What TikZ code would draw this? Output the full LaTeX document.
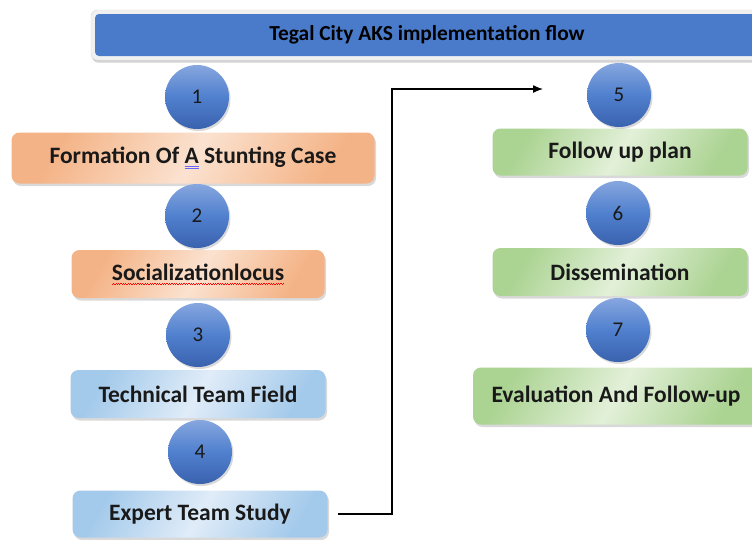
\documentclass[tikz,border=0pt]{standalone}
\usepackage{fontspec}
\setmainfont{Carlito}
\usetikzlibrary{arrows.meta,shadows}

\definecolor{barblue}{HTML}{4A7BCB}
\definecolor{ballhi}{HTML}{86A6DE}
\definecolor{ballmid}{HTML}{5080CE}
\definecolor{balllo}{HTML}{3A62AE}
\definecolor{orangedark}{HTML}{F4B386}
\definecolor{orangelight}{HTML}{FBE2D0}
\definecolor{bluedark}{HTML}{A4CAEB}
\definecolor{bluelight}{HTML}{E0ECF8}
\definecolor{greendark}{HTML}{ABD392}
\definecolor{greenlight}{HTML}{E2F0D8}

% double blue line and red squiggle under a word
\newcommand\dblmark[1]{\setbox0\hbox{#1}%
  \rlap{\color{blue!60}\rule[-3pt]{\wd0}{0.8pt}}%
  \rlap{\color{blue!60}\rule[-5pt]{\wd0}{0.8pt}}\box0\relax}
\newcommand\wavymark[1]{\setbox0\hbox{#1}%
  \rlap{\color{red}\hbox to\wd0{\xleaders\hbox{\raisebox{-4.5pt}{\rule{1.2pt}{0.8pt}}\raisebox{-3.5pt}{\rule{1.2pt}{0.8pt}}}\hfill}}\box0\relax}

\tikzset{
  numball/.style={circle,minimum size=64pt,inner sep=0pt,
    top color=ballhi,bottom color=balllo,middle color=ballmid,
    drop shadow={opacity=0.3,shadow xshift=1.5pt,shadow yshift=-2pt},
    font=\fontsize{21}{24}\selectfont,text=black!90},
  stepbox/.style={rounded corners=8pt,minimum height=48pt,inner sep=0pt,
    drop shadow={opacity=0.3,shadow xshift=1.5pt,shadow yshift=-2.5pt},
    font=\bfseries\fontsize{23.5}{27}\selectfont,text=black!90},
  orangebox/.style={stepbox,left color=orangedark,right color=orangedark,middle color=orangelight,shading angle=60},
  bluebox/.style={stepbox,left color=bluedark,right color=bluedark,middle color=bluelight,shading angle=60},
  greenbox/.style={stepbox,left color=greendark,right color=greendark,middle color=greenlight,shading angle=60},
}

\begin{document}
\begin{tikzpicture}[x=1pt,y=-1pt]
\useasboundingbox (0,0) rectangle (752,539);
% heading bar
\node[rounded corners=6pt,fill=gray!12,draw=gray!30,minimum width=672pt,minimum height=50pt,
  drop shadow={opacity=0.35,shadow xshift=1pt,shadow yshift=-2.5pt}] (frame) at (427,35) {};
\node[rounded corners=4pt,fill=barblue,minimum width=664pt,minimum height=42pt,
  font=\bfseries\fontsize{21.4}{25}\selectfont] (title) at (427,35) {Tegal City AKS implementation flow};

% left column
\node[orangebox,minimum width=363pt,minimum height=51pt] (case) at (193,158)
  {Formation Of \dblmark{A} Stunting Case};
\node[orangebox,minimum width=253pt] (social) at (198,274) {\wavymark{Socializationlocus}};
\node[bluebox,minimum width=255pt] (technical) at (198,394) {Technical Team Field};
\node[bluebox,minimum width=255pt,minimum height=47pt] (expert) at (200,514) {Expert Team Study};

% right column
\node[greenbox,minimum width=255pt,minimum height=47pt] (plan) at (620,152) {Follow up plan};
\node[greenbox,minimum width=255pt] (dissem) at (620,272) {Dissemination};
\node[greenbox,minimum width=286pt,minimum height=57pt] (evaluation) at (616,396) {Evaluation And Follow-up};

% numbered balls
\foreach \n/\x/\y in {1/197/97,2/197/216,3/198/335,4/200/452,5/619/95,6/618/213,7/618/330}
  \node[numball] (ball\n) at (\x,\y) {\n};

% jump from step 4 across to step 5
\coordinate (turn) at (392,0);
\coordinate (arrowend) at (543,89);
\draw[line width=1.3pt,-{Latex[length=10pt,width=8pt]},shorten <=10pt]
  (expert.east) -- (expert.east -| turn) |- (arrowend);
\end{tikzpicture}
\end{document}
